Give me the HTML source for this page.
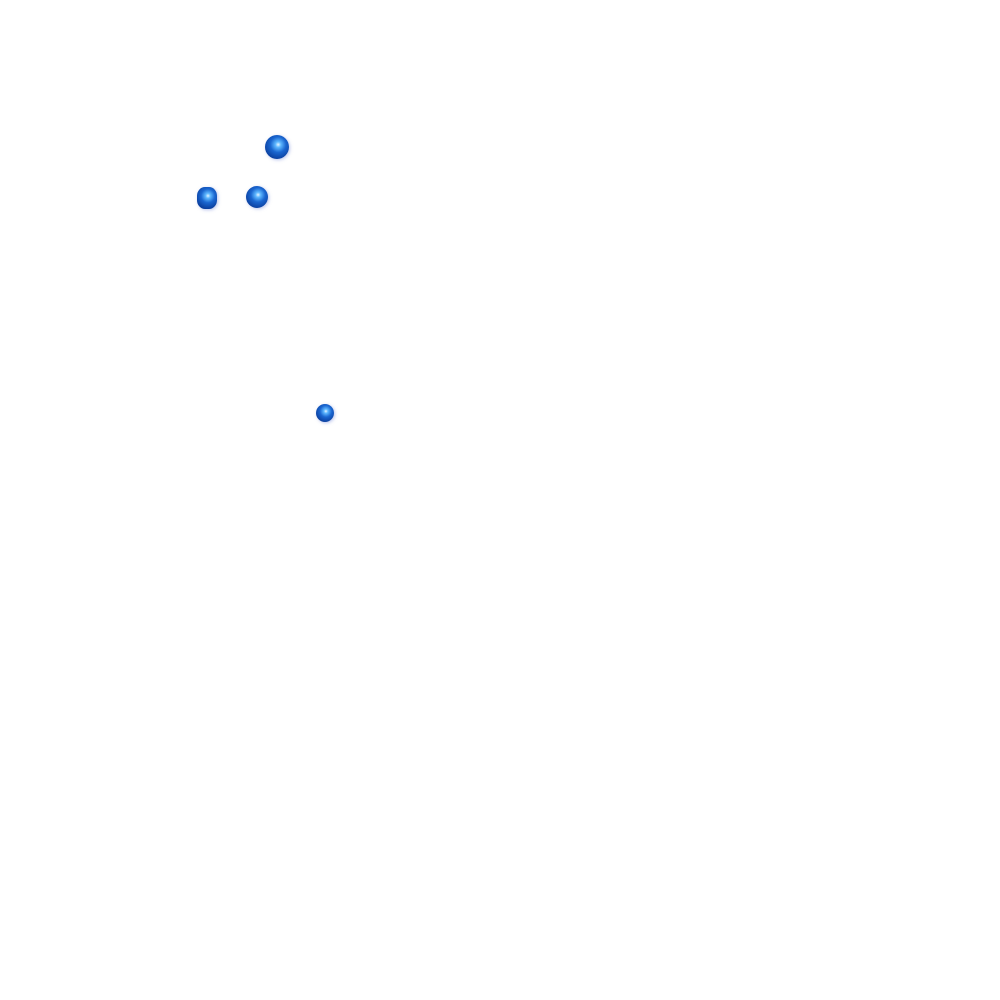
<!DOCTYPE html>
<html><head><meta charset="utf-8"><style>
html,body{margin:0;padding:0;background:#fff;width:1000px;height:1000px;overflow:hidden;position:relative}
.d{position:absolute;border-radius:50%;background:radial-gradient(circle at 55% 40%,#e8f6ff 0%,#5fb8ff 14%,#1a66d0 40%,#0b3f9e 75%,#0a3a90 100%);box-shadow:1px 1px 3px rgba(120,140,220,.5)}
</style></head><body>
<div class="d" style="left:265px;top:135px;width:24px;height:24px"></div>
<div class="d" style="left:197px;top:187px;width:20px;height:22px;border-radius:40%"></div>
<div class="d" style="left:246px;top:186px;width:22px;height:22px"></div>
<div class="d" style="left:316px;top:404px;width:18px;height:18px"></div>
</body></html>
